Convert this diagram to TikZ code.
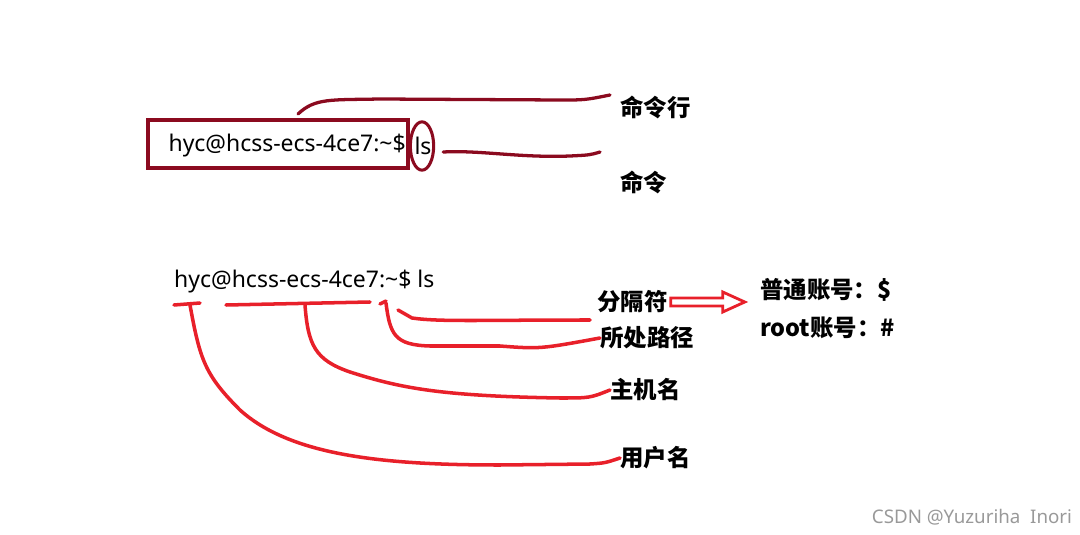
\documentclass[tikz,border=0pt]{standalone}
\usepackage{fontspec}
\setmainfont{Noto Sans}
\newfontfamily\cjk{Noto Sans CJK SC}[BoldFont=* Black]
\usetikzlibrary{positioning,shapes.geometric}
\definecolor{darkred}{HTML}{8B0A1F}
\definecolor{inkred}{HTML}{E8202A}
\tikzset{
  cmd/.style={inner sep=0pt,font=\fontsize{19.6}{22}\selectfont},
  lab/.style={inner sep=0pt,anchor=west,font=\cjk\bfseries\fontsize{20}{24}\selectfont},
  dark/.style={draw=darkred,line width=2.6pt},
  ink/.style={draw=inkred,line width=3pt,line cap=round,line join=round},
}
\begin{document}
\begin{tikzpicture}[x=0.03cm,y=-0.03cm]
  %Cadre
  \useasboundingbox (0,0) rectangle (1080,535);
  %Ligne du haut
  \node [cmd,anchor=east] (prompt) at (406,146) {hyc@hcss-ecs-4ce7:\textasciitilde\$};
  \node [cmd] (ls) at (423,146) {ls};
  \draw [dark] (148,120) rectangle (408,168);
  \node [dark,ellipse,minimum width=0.7cm,minimum height=1.45cm,inner sep=0pt] (lsring) at (422,146) {};
  \node [lab] (cmdline) at (620,107) {命令行};
  \node [lab] (cmdname) at (620,182) {命令};
  \coordinate (boxtop) at (298,114);
  \coordinate (linetip) at (610,95);
  \coordinate (cmdtip) at (600,152);
  \draw [dark,line width=2.8pt,line cap=round] (boxtop) .. controls (315,98) and (330,100) .. (380,99) -- (560,100) .. controls (585,100) .. (linetip);
  \draw [dark,line width=2.8pt,line cap=round] (lsring.east) ++(8,6) .. controls (480,150) and (520,158) .. (570,156) .. controls (590,155) .. (cmdtip);
  %Ligne du bas
  \node [cmd,anchor=west] (full) at (174,282) {hyc@hcss-ecs-4ce7:\textasciitilde\$ ls};
  \draw [ink] (174,305) -- (200,303);
  \draw [ink] (226,305) -- (370,302);
  \draw [ink] (380,304) -- (386,301);
  %Etiquettes
  \node [lab] (sep) at (597,302) {分隔符};
  \node [lab] (path) at (600,338) {所处路径};
  \node [lab] (host) at (610,390) {主机名};
  \node [lab] (user) at (620,458) {用户名};
  \node [lab] (normal) at (760,290) {普通账号：\$};
  \node [lab] (root) at (760,328) {root账号：\#};
  %Courbes
  \draw [ink] (190,305) .. controls (200,360) and (205,375) .. (240,410) .. controls (290,455) and (380,465) .. (500,465) -- (590,464) .. controls (605,463) .. (user.west);
  \draw [ink] (305,305) .. controls (308,345) and (315,360) .. (350,372) .. controls (400,388) and (440,396) .. (560,398) .. controls (590,398) .. (host.west);
  \draw [ink] (386,303) .. controls (390,335) and (395,345) .. (430,346) -- (500,346) .. controls (540,349) .. (path.west);
  \draw [ink] (398,310) -- (412,318) .. controls (440,322) and (480,320) .. (590,320);
  %Fleche creuse
  \draw [draw=inkred,line width=2.4pt,line join=miter] (sep.east) ++(3,-4) -- ++(52,0) -- ++(0,-6) -- ++(22,10) -- ++(-22,10) -- ++(0,-6) -- ++(-52,0) -- cycle;
  %Filigrane
  \node [inner sep=0pt,text=gray!80,font=\fontsize{16}{19}\selectfont] (mark) at (972,517) {CSDN @Yuzuriha\ \ Inori};
\end{tikzpicture}
\end{document}
